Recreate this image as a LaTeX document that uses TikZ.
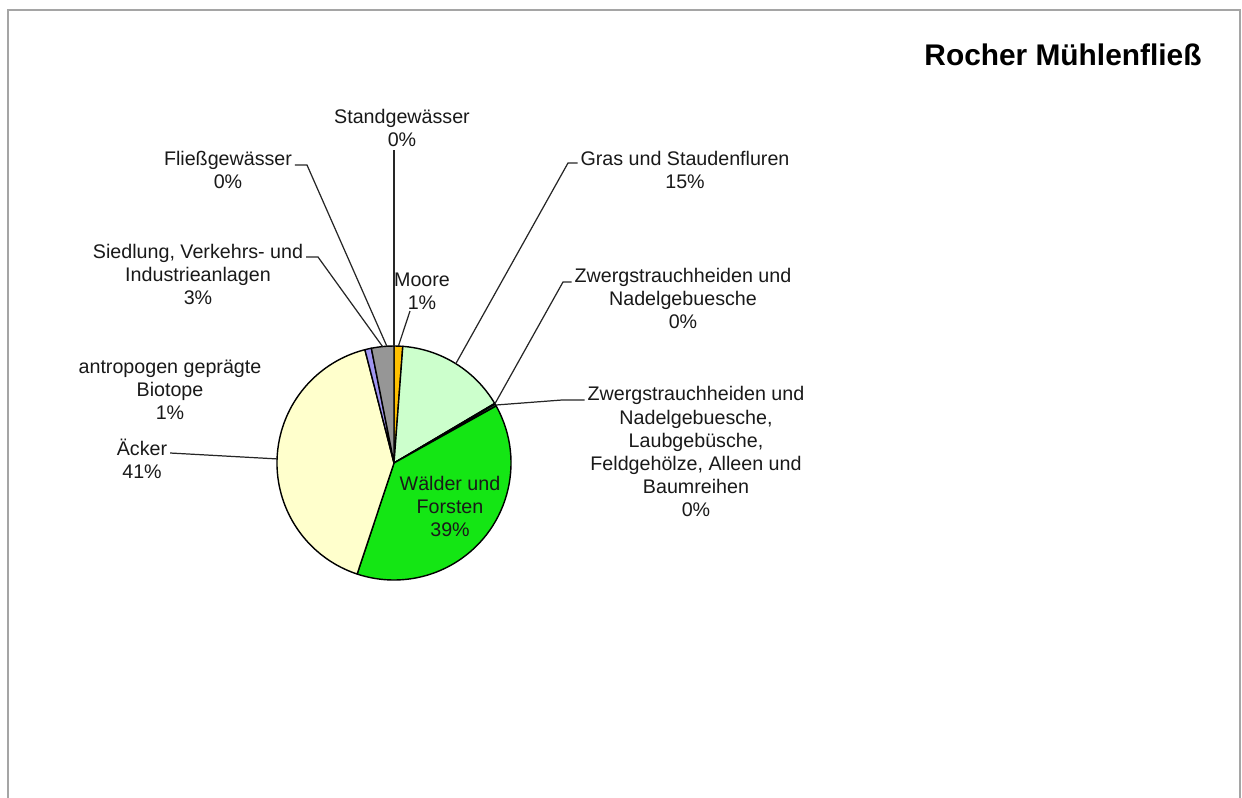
\documentclass[tikz,border=0pt]{standalone}
\usepackage{fontspec}
\setmainfont{Liberation Sans}
\definecolor{mooreorange}{RGB}{255,192,0}
\definecolor{grasgreen}{RGB}{204,255,204}
\definecolor{zwdark}{RGB}{0,90,0}
\definecolor{zwmid}{RGB}{40,120,60}
\definecolor{waldgreen}{RGB}{20,230,20}
\definecolor{ackeryellow}{RGB}{255,255,204}
\definecolor{biolilac}{RGB}{160,150,240}
\definecolor{siedgrey}{RGB}{150,150,150}
\definecolor{framegrey}{RGB}{165,165,165}
\begin{document}
\begin{tikzpicture}[x=0.02cm, y=-0.02cm,
    lbl/.style={font=\fontsize{11.2}{13.1}\selectfont, text=black!90, align=center, inner ysep=0pt, inner xsep=1.5pt},
    heading/.style={font=\fontsize{17}{20}\selectfont\bfseries, inner sep=0pt},
    slice/.style={draw=black, line width=0.8pt, line join=round},
    leader/.style={draw=black!85, line width=0.7pt}
]
    \clip (0,0) rectangle (1242,798);
    \draw[framegrey, line width=1.1pt] (8,10) rectangle (1240,830);

    \node[heading] (title) at (1063,55) {Rocher Mühlenfließ};

    % pie, clockwise from the top
    \coordinate (c) at (394,463);
    \filldraw[slice, fill=mooreorange] (c) -- ++(-90:117) arc[start angle=-90, end angle=-85.68, radius=117] -- cycle;
    \filldraw[slice, fill=grasgreen] (c) -- ++(-85.68:117) arc[start angle=-85.68, end angle=-30.6, radius=117] -- cycle;
    \filldraw[slice, fill=zwdark] (c) -- ++(-30.6:117) arc[start angle=-30.6, end angle=-30.24, radius=117] -- cycle;
    \filldraw[slice, fill=zwmid] (c) -- ++(-30.24:117) arc[start angle=-30.24, end angle=-29.16, radius=117] -- cycle;
    \filldraw[slice, fill=waldgreen] (c) -- ++(-29.16:117) arc[start angle=-29.16, end angle=108.36, radius=117] -- cycle;
    \filldraw[slice, fill=ackeryellow] (c) -- ++(108.36:117) arc[start angle=108.36, end angle=255.6, radius=117] -- cycle;
    \filldraw[slice, fill=biolilac] (c) -- ++(255.6:117) arc[start angle=255.6, end angle=258.84, radius=117] -- cycle;
    \filldraw[slice, fill=siedgrey] (c) -- ++(258.84:117) arc[start angle=258.84, end angle=270, radius=117] -- cycle;

    % points on the rim for the leaders
    \path (c) ++(-87.84:117) coordinate (pMoore);
    \path (c) ++(-58.1:117) coordinate (pGras);
    \path (c) ++(-30.4:117) coordinate (pZwerg);
    \path (c) ++(-29.7:117) coordinate (pZwlaub);
    \path (c) ++(182:117) coordinate (pAcker);
    \path (c) ++(264.4:117) coordinate (pSied);
    \path (c) ++(266.5:117) coordinate (pFliess);
    \path (c) ++(270:117) coordinate (pStand);

    \node[lbl] (wald) at (450,506.5) {Wälder und\\Forsten\\39\%};

    \node[lbl] (stand) at (402,127.5) {Standgewässer\\0\%};
    \coordinate (kStand) at (394,150);
    \draw[leader] (pStand) -- (kStand);

    \node[lbl] (fliess) at (228,169.5) {Fließgewässer\\0\%};
    \coordinate (kFliess) at (307,165);
    \draw[leader] (pFliess) -- (kFliess) -- (kFliess -| fliess.east);

    \node[lbl] (sied) at (198,274.5) {Siedlung, Verkehrs- und\\Industrieanlagen\\3\%};
    \coordinate (kSied) at (318,257);
    \draw[leader] (pSied) -- (kSied) -- (kSied -| sied.east);

    \node[lbl] (moore) at (422,291.5) {Moore\\1\%};
    \coordinate (kMoore) at (410,311);
    \draw[leader] (pMoore) -- (kMoore);

    \node[lbl] (gras) at (685,170) {Gras und Staudenfluren\\15\%};
    \coordinate (kGras) at (568,163);
    \draw[leader] (pGras) -- (kGras) -- (kGras -| gras.west);

    \node[lbl] (zwerg) at (683,298.5) {Zwergstrauchheiden und\\Nadelgebuesche\\0\%};
    \coordinate (kZwerg) at (563,282);
    \draw[leader] (pZwerg) -- (kZwerg) -- (kZwerg -| zwerg.west);

    \node[lbl] (zwlaub) at (696,451.5) {Zwergstrauchheiden und\\Nadelgebuesche,\\Laubgebüsche,\\Feldgehölze, Alleen und\\Baumreihen\\0\%};
    \coordinate (kZwlaub) at (562,400);
    \draw[leader] (pZwlaub) -- (kZwlaub) -- (kZwlaub -| zwlaub.west);

    \node[lbl] (antro) at (170,390) {antropogen geprägte\\Biotope\\1\%};

    \node[lbl] (acker) at (142,458.5) {Äcker\\41\%};
    \coordinate (kAcker) at (acker.east |- 0,453);
    \draw[leader] (pAcker) -- (kAcker);
\end{tikzpicture}
\end{document}
